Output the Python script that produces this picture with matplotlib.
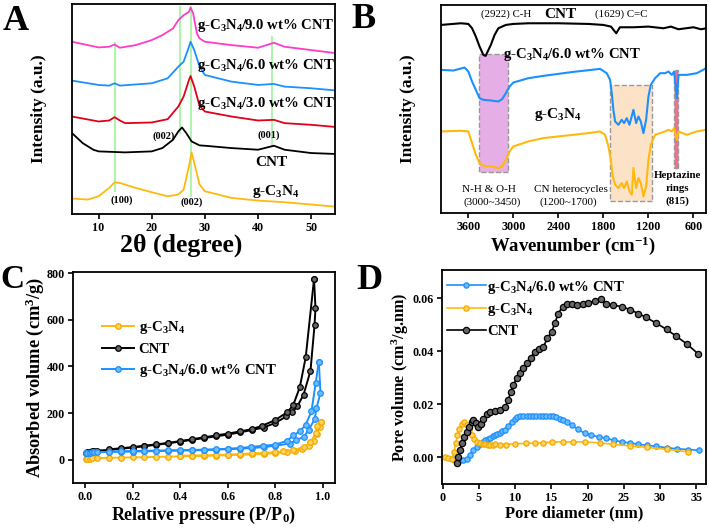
import matplotlib
matplotlib.use('Agg')
import matplotlib.pyplot as plt
from matplotlib.patches import Rectangle

plt.rcParams['font.family'] = ['Liberation Serif', 'DejaVu Serif']
plt.rcParams['font.weight'] = 'bold'
plt.rcParams['axes.labelweight'] = 'bold'
plt.rcParams['mathtext.default'] = 'regular'
plt.rcParams['mathtext.fontset'] = 'custom'
plt.rcParams['mathtext.rm'] = 'Liberation Serif:bold'
plt.rcParams['mathtext.bf'] = 'Liberation Serif:bold'
plt.rcParams['xtick.direction'] = 'out'
plt.rcParams['ytick.direction'] = 'out'

YEL = '#FFB90F'
BLU = '#1E8FFF'
PNK = '#FF3CC8'
RED = '#E0001B'

# ---------------- A: XRD ----------------
xrd_gcn_x = [5, 8, 10, 12, 13, 14, 17, 20, 23, 25, 26, 27, 27.5, 28, 29, 30, 35, 40, 45, 50, 55]
xrd_gcn_y = [46, 43, 53, 78, 95, 93, 78, 65, 53, 58, 73, 143, 185, 153, 88, 68, 48, 40, 35, 28, 21]
xrd_cnt_x = [5, 7, 9, 10, 15, 20, 22, 24, 25, 25.7, 26.5, 27.5, 29, 30, 35, 40, 42, 43, 45, 50, 55]
xrd_cnt_y = [243, 213, 193, 188, 185, 188, 198, 223, 248, 260, 243, 218, 206, 205, 198, 193, 201, 205, 193, 183, 180]
xrd_3_x = [5, 10, 12, 13, 14, 15, 20, 23, 25, 26, 27, 27.3, 28, 29, 30, 35, 40, 43, 45, 50, 55]
xrd_3_y = [293, 278, 281, 291, 281, 273, 275, 285, 323, 353, 403, 415, 383, 325, 308, 293, 281, 283, 273, 268, 261]
xrd_6_x = [5, 10, 12, 13, 14, 20, 23, 25, 26, 27, 27.3, 28, 29, 30, 35, 40, 43, 45, 50, 55]
xrd_6_y = [401, 388, 386, 393, 386, 393, 408, 443, 458, 503, 518, 493, 443, 418, 398, 388, 391, 383, 378, 371]
xrd_9_x = [5, 10, 12, 13, 14, 17, 20, 22, 24, 25, 26, 27, 27.3, 27.8, 28.5, 29, 30, 35, 40, 43, 45, 50, 55]
xrd_9_y = [518, 501, 503, 510, 500, 508, 523, 538, 558, 583, 598, 608, 621, 603, 543, 528, 518, 508, 500, 515, 503, 493, 483]
xrd_guides = [13.0, 25.4, 27.4, 42.7]
xrd_guide_lo = [68, 243, 53, 203]
xrd_guide_hi = [513, 623, 623, 533]

# ---------------- B: FTIR ----------------
ir_cnt_x = [3964, 3700, 3600, 3550, 3500, 3450, 3400, 3370, 3300, 3250, 3200, 3100, 3000, 2800, 2400,
            2000, 1800, 1700, 1629, 1580, 1400, 1200, 1000, 900, 800, 700, 600, 500, 430]
ir_cnt_y = [565, 570, 568, 555, 530, 500, 475, 472, 505, 535, 555, 565, 568, 570, 570,
            568, 565, 560, 540, 558, 558, 560, 555, 560, 552, 555, 558, 552, 555]
ir_6_x = [3964, 3800, 3650, 3600, 3550, 3500, 3450, 3400, 3300, 3200, 3150, 3100, 3050, 3000, 2800, 2600,
          2400, 2200, 2000, 1844, 1756, 1711, 1689, 1667, 1644, 1600, 1556, 1524, 1489, 1453, 1400, 1364,
          1333, 1302, 1267, 1231, 1200, 1169, 1111, 1044, 978, 933, 889, 858, 822, 800, 689, 556, 431]
ir_6_y = [430, 428, 437, 425, 395, 370, 345, 340, 338, 335, 342, 360, 380, 392, 405, 412,
          418, 424, 429, 433, 420, 400, 360, 310, 275, 265, 280, 270, 285, 265, 310, 270,
          290, 275, 240, 280, 350, 385, 405, 420, 420, 425, 415, 425, 345, 415, 415, 420, 435]
ir_gcn_x = [3964, 3700, 3600, 3550, 3500, 3450, 3400, 3300, 3200, 3150, 3100, 3050, 3000, 2800, 2600,
            2400, 2200, 2000, 1844, 1778, 1733, 1702, 1676, 1644, 1600, 1556, 1524, 1489, 1453, 1422,
            1400, 1364, 1333, 1302, 1267, 1231, 1200, 1169, 1111, 1044, 978, 933, 889, 858, 822, 800,
            689, 556, 431]
ir_gcn_y = [245, 247, 245, 210, 175, 150, 142, 140, 135, 140, 160, 185, 200, 215, 225,
            230, 235, 240, 245, 235, 200, 160, 110, 85, 75, 90, 75, 95, 65, 55,
            135, 75, 105, 90, 50, 80, 160, 205, 235, 240, 245, 250, 245, 255, 220, 245,
            235, 245, 250]

# ---------------- C: N2 isotherms ----------------
bet_cnt_ads_x = [0.005, 0.01, 0.02, 0.03, 0.04, 0.05, 0.1, 0.15, 0.2, 0.25, 0.3, 0.35, 0.4, 0.45, 0.5,
                 0.55, 0.6, 0.65, 0.7, 0.75, 0.8, 0.846, 0.871, 0.892, 0.918, 0.947, 0.964, 0.968, 0.962]
bet_cnt_ads_y = [30, 33, 35, 37, 38, 39, 42, 47, 52, 58, 64, 70, 78, 85, 93,
                 100, 108, 117, 127, 138, 158, 186, 204, 229, 279, 381, 576, 650, 775]
bet_cnt_des_x = [0.962, 0.927, 0.902, 0.874, 0.849, 0.797, 0.745, 0.70, 0.65, 0.6, 0.55, 0.5, 0.45,
                 0.4, 0.35, 0.3, 0.25, 0.2, 0.15, 0.1]
bet_cnt_des_y = [775, 439, 310, 233, 203, 169, 146, 131, 121, 112, 104, 96, 88, 80, 72, 66, 60, 54, 49, 44]
bet_6_ads_x = [0.005, 0.01, 0.02, 0.03, 0.04, 0.05, 0.1, 0.15, 0.2, 0.25, 0.3, 0.35, 0.4, 0.45, 0.5,
               0.55, 0.6, 0.65, 0.7, 0.75, 0.8, 0.86, 0.888, 0.918, 0.94, 0.965, 0.972, 0.989, 0.982]
bet_6_ads_y = [27, 29, 30, 31, 31, 32, 33, 34, 35, 36, 37, 38, 39, 40, 41,
               43, 45, 47, 50, 54, 60, 69, 86, 96, 129, 174, 221, 286, 421]
bet_6_des_x = [0.982, 0.969, 0.951, 0.927, 0.902, 0.874, 0.849, 0.797, 0.748, 0.699, 0.65, 0.6,
               0.55, 0.5, 0.45, 0.4, 0.35, 0.3, 0.25, 0.2, 0.15, 0.1]
bet_6_des_y = [421, 329, 207, 150, 121, 104, 81, 64, 60, 55, 50, 47, 45, 43, 42, 41, 40, 39, 38, 37, 36, 35]
bet_gcn_ads_x = [0.005, 0.01, 0.02, 0.03, 0.05, 0.1, 0.15, 0.2, 0.25, 0.3, 0.35, 0.4, 0.45, 0.5, 0.55,
                 0.6, 0.65, 0.7, 0.75, 0.8, 0.85, 0.88, 0.91, 0.94, 0.96, 0.975, 0.985, 0.993]
bet_gcn_ads_y = [2, 4, 5, 6, 7, 8, 9, 10, 11, 12, 13, 14, 15, 16, 18,
                 19, 21, 23, 25, 28, 33, 38, 46, 60, 80, 110, 140, 160]
bet_gcn_des_x = [0.993, 0.975, 0.969, 0.947, 0.918, 0.874, 0.832, 0.8, 0.75, 0.7, 0.65, 0.6, 0.55,
                 0.5, 0.45, 0.4]
bet_gcn_des_y = [160, 143, 114, 74, 54, 40, 36, 33, 29, 27, 24, 22, 20, 19, 18, 17]

# ---------------- D: pore size distribution ----------------
psd_6_x = [1.47, 1.93, 2.39, 2.85, 3.31, 3.77, 4.23, 4.69, 5.14, 5.5, 5.83, 6.2, 6.52, 6.9, 7.21, 7.55,
           7.9, 8.25, 8.59, 9.05, 9.5, 9.96, 10.3, 10.65, 11.1, 11.57, 12.0, 12.49, 12.9, 13.4, 13.85,
           14.3, 14.8, 15.25, 15.7, 16.17, 16.6, 17.1, 17.78, 18.7, 19.6, 20.5, 21.6, 22.6, 23.6, 24.7,
           25.8, 26.96, 28.2, 29.5, 30.9, 32.3, 33.9, 35.4]
psd_6_y = [-0.0004, -0.0008, -0.001, -0.001, -0.0004, 0.0011, 0.0028, 0.004, 0.005, 0.0058, 0.0065,
           0.007, 0.0075, 0.008, 0.0084, 0.0088, 0.0093, 0.0099, 0.0105, 0.012, 0.0133, 0.0145, 0.0151,
           0.0155, 0.0156, 0.0157, 0.0158, 0.0158, 0.0158, 0.0158, 0.0158, 0.0158, 0.0157, 0.0155,
           0.0151, 0.0147, 0.0141, 0.0133, 0.0122, 0.0106, 0.0091, 0.0084, 0.0078, 0.0072, 0.0065,
           0.0059, 0.0055, 0.005, 0.0046, 0.0042, 0.0037, 0.0033, 0.003, 0.0027]
psd_gcn_x = [0.32, 0.78, 1.24, 1.56, 1.79, 2.02, 2.30, 2.62, 2.94, 3.31, 3.67, 4.0, 4.36, 4.69, 5.14,
             5.5, 5.83, 6.2, 6.52, 6.9, 7.21, 7.9, 8.8, 9.96, 11.48, 12.72, 13.87, 15.02, 16.6, 18.0,
             19.6, 21.7, 23.5, 25.8, 28.2, 30.9, 33.9]
psd_gcn_y = [0.0, -0.0001, -0.0006, 0.0021, 0.0053, 0.0084, 0.0109, 0.0128, 0.0135, 0.0122, 0.0103,
             0.0084, 0.0069, 0.0059, 0.0053, 0.0051, 0.005, 0.0049, 0.0049, 0.0049, 0.005, 0.0049,
             0.0049, 0.0052, 0.0053, 0.0055, 0.0056, 0.0058, 0.0059, 0.0059, 0.0059, 0.0055, 0.005,
             0.0044, 0.0038, 0.0031, 0.0021]
psd_cnt_x = [1.93, 2.16, 2.39, 2.62, 2.94, 3.31, 3.67, 4.0, 4.23, 4.59, 4.91, 5.24, 5.6, 6.06, 6.52,
             7.21, 7.9, 8.59, 9.05, 9.37, 9.73, 10.2, 10.65, 11.1, 11.67, 12.13, 12.72, 13.27, 13.87,
             14.42, 15.02, 15.48, 15.94, 16.54, 17.09, 17.9, 18.6, 19.3, 20.1, 21.0, 21.8, 22.6, 23.5,
             24.7, 25.8, 27.0, 28.1, 29.5, 30.9, 32.2, 33.7, 35.2]
psd_cnt_y = [-0.002, 0.0003, 0.0028, 0.0053, 0.0078, 0.0097, 0.0116, 0.0135, 0.0143, 0.0131, 0.0116,
             0.0128, 0.0147, 0.0163, 0.0172, 0.0176, 0.0181, 0.0191, 0.0216, 0.0248, 0.0273, 0.0298,
             0.0317, 0.0336, 0.0355, 0.0377, 0.0399, 0.0408, 0.0415, 0.0449, 0.0474, 0.0506, 0.0543,
             0.0569, 0.0577, 0.0577, 0.0575, 0.058, 0.0584, 0.059, 0.0596, 0.0579, 0.0575, 0.0569,
             0.0558, 0.0543, 0.0528, 0.0506, 0.0483, 0.0458, 0.0428, 0.0392]

GCN = 'g-C$_3$N$_4$'

fig = plt.figure(figsize=(7.09, 5.28), dpi=100)
axA = fig.add_axes([0.1016, 0.595, 0.371, 0.397])
axB = fig.add_axes([0.622, 0.5966, 0.374, 0.394])
axC = fig.add_axes([0.103, 0.0852, 0.3695, 0.3996])
axD = fig.add_axes([0.6234, 0.0833, 0.372, 0.4053])

for ax in (axA, axB, axC, axD):
    for s in ax.spines.values():
        s.set_linewidth(1.3)
    ax.tick_params(labelsize=8.7, width=1.2, length=3.5, pad=2.5)

# A
for gx, lo, hi in zip(xrd_guides, xrd_guide_lo, xrd_guide_hi):
    axA.plot([gx, gx], [lo, hi], color='#9EF09E', lw=1.5, alpha=0.8, zorder=1)
axA.plot(xrd_gcn_x, xrd_gcn_y, color=YEL, lw=1.3)
axA.plot(xrd_cnt_x, xrd_cnt_y, color='k', lw=1.3)
axA.plot(xrd_3_x, xrd_3_y, color=RED, lw=1.3)
axA.plot(xrd_6_x, xrd_6_y, color=BLU, lw=1.3)
axA.plot(xrd_9_x, xrd_9_y, color=PNK, lw=1.3)
axA.set_xlim(5, 54.5)
axA.set_ylim(0, 631)
axA.set_yticks([])
axA.set_xticks([10, 20, 30, 40, 50])
axA.set_xlabel('2θ (degree)', fontsize=18.5)
axA.xaxis.set_label_coords(0.414, -0.095)
axA.set_ylabel('Intensity (a.u.)', fontsize=12.5, labelpad=18)
axA.text(28.6, 568, GCN + '/9.0 wt% CNT', fontsize=10.6, va='center')
axA.text(28.6, 448, GCN + '/6.0 wt% CNT', fontsize=10.6, va='center')
axA.text(28.6, 333, GCN + '/3.0 wt% CNT', fontsize=10.6, va='center')
axA.text(42.5, 155, 'CNT', fontsize=11, ha='center', va='center')
axA.text(43.3, 66, GCN, fontsize=11, ha='center', va='center')
axA.text(22.2, 235, '(002)', fontsize=7.5, ha='center', va='center')
axA.text(42.0, 238, '(001)', fontsize=7.5, ha='center', va='center')
axA.text(14.4, 40, '(100)', fontsize=7.5, ha='center', va='center')
axA.text(27.5, 35, '(002)', fontsize=7.5, ha='center', va='center')

# B
axB.add_patch(Rectangle((3076, 122), 3458 - 3076, 478 - 122, facecolor='#E6AEE6',
                        edgecolor='#999999', ls='--', lw=1.0, zorder=1))
axB.add_patch(Rectangle((1156, 35), 1711 - 1156, 385 - 35, facecolor='#FCE3C8',
                        edgecolor='#999999', ls='--', lw=1.0, zorder=1))
axB.add_patch(Rectangle((800, 135), 858 - 800, 430 - 135, facecolor='#F0708E',
                        edgecolor='#999999', ls='--', lw=1.0, zorder=1))
axB.plot(ir_cnt_x, ir_cnt_y, color='k', lw=1.5)
axB.plot(ir_6_x, ir_6_y, color=BLU, lw=1.5)
axB.plot(ir_gcn_x, ir_gcn_y, color=YEL, lw=1.5)
axB.set_xlim(3964, 431)
axB.set_ylim(0, 625)
axB.set_yticks([])
axB.set_xticks([3600, 3000, 2400, 1800, 1200, 600])
axB.set_xlabel('Wavenumber (cm$^{-1}$)', fontsize=13.5, labelpad=1)
axB.set_ylabel('Intensity (a.u.)', fontsize=12.5, labelpad=18)
axB.text(3102, 597, '(2922) C-H', fontsize=7.8, ha='center', va='center', fontweight='normal')
axB.text(2369, 597, 'CNT', fontsize=11, ha='center', va='center')
axB.text(1569, 597, '(1629) C=C', fontsize=7.8, ha='center', va='center', fontweight='normal')
axB.text(3142, 475, GCN + '/6.0 wt% CNT', fontsize=10.6, va='center')
axB.text(2413, 295, GCN, fontsize=11, ha='center', va='center')
axB.text(3324, 70, 'N-H & O-H', fontsize=8, ha='center', va='center', fontweight='normal')
axB.text(3280, 32, '(3000~3450)', fontsize=8, ha='center', va='center', fontweight='normal')
axB.text(2231, 70, 'CN heterocycles', fontsize=8, ha='center', va='center', fontweight='normal')
axB.text(2267, 32, '(1200~1700)', fontsize=8, ha='center', va='center', fontweight='normal')
axB.text(809, 113, 'Heptazine', fontsize=7.8, ha='center', va='center')
axB.text(809, 73, 'rings', fontsize=7.8, ha='center', va='center')
axB.text(809, 34, '(815)', fontsize=7.8, ha='center', va='center')

# C
mk = dict(marker='o', markersize=4, lw=1.4, markeredgewidth=0.9)
axC.plot(bet_gcn_ads_x, bet_gcn_ads_y, color=YEL, mfc='#FFD460', mec='#F5A800', label=GCN, **mk)
axC.plot(bet_gcn_des_x, bet_gcn_des_y, color=YEL, mfc='#FFD460', mec='#F5A800', **mk)
axC.plot(bet_cnt_ads_x, bet_cnt_ads_y, color='k', mfc='#666666', mec='k', label='CNT', **mk)
axC.plot(bet_cnt_des_x, bet_cnt_des_y, color='k', mfc='#666666', mec='k', **mk)
axC.plot(bet_6_ads_x, bet_6_ads_y, color=BLU, mfc='#6CBBFF', mec=BLU, label=GCN + '/6.0 wt% CNT', **mk)
axC.plot(bet_6_des_x, bet_6_des_y, color=BLU, mfc='#6CBBFF', mec=BLU, **mk)
axC.set_xlim(-0.05, 1.05)
axC.set_ylim(-100, 805)
axC.set_xticks([0.0, 0.2, 0.4, 0.6, 0.8, 1.0])
axC.set_xticklabels(['0.0', '0.2', '0.4', '0.6', '0.8', '1.0'])
axC.set_yticks([0, 200, 400, 600, 800])
axC.set_xlabel('Relative pressure (P/P$_0$)', fontsize=13, labelpad=1)
axC.set_ylabel('Absorbed volume (cm$^3$/g)', fontsize=13.2, labelpad=0)
axC.legend(loc='upper left', bbox_to_anchor=(0.11, 0.775), frameon=False, fontsize=10.6,
           borderpad=0, borderaxespad=0, handlelength=2.2, handletextpad=0.3,
           labelspacing=0.42, numpoints=1)

# D
mkd = dict(marker='o', lw=1.2, markeredgewidth=0.9)
axD.plot(psd_6_x, psd_6_y, color=BLU, mfc='#6CBBFF', mec=BLU, markersize=3.8, label=GCN + '/6.0 wt% CNT', **mkd)
axD.plot(psd_gcn_x, psd_gcn_y, color=YEL, mfc='#FFD460', mec='#F5A800', markersize=3.8, label=GCN, **mkd)
axD.plot(psd_cnt_x, psd_cnt_y, color='k', mfc='#666666', mec='k', markersize=4.5, label='CNT', **mkd)
axD.set_xlim(-0.1, 36.3)
axD.set_ylim(-0.01, 0.0707)
axD.set_xticks([0, 5, 10, 15, 20, 25, 30, 35])
axD.set_yticks([0.00, 0.02, 0.04, 0.06])
axD.set_yticklabels(['0.00', '0.02', '0.04', '0.06'])
axD.set_xlabel('Pore diameter (nm)', fontsize=12, labelpad=1)
axD.set_ylabel('Pore volume (cm$^3$/g.nm)', fontsize=11.7, labelpad=1)
axD.legend(loc='upper left', bbox_to_anchor=(0.02, 0.96), frameon=False, fontsize=10.6,
           borderpad=0, borderaxespad=0, handlelength=2.6, handletextpad=0.1,
           labelspacing=0.4, numpoints=1)

fig.text(0.003, 0.99, 'A', fontsize=26, fontweight='bold', va='top')
fig.text(0.495, 0.995, 'B', fontsize=26, fontweight='bold', va='top')
fig.text(0.0, 0.50, 'C', fontsize=24, fontweight='bold', va='top')
fig.text(0.502, 0.50, 'D', fontsize=26, fontweight='bold', va='top')

fig.savefig('out.png', dpi=100)
